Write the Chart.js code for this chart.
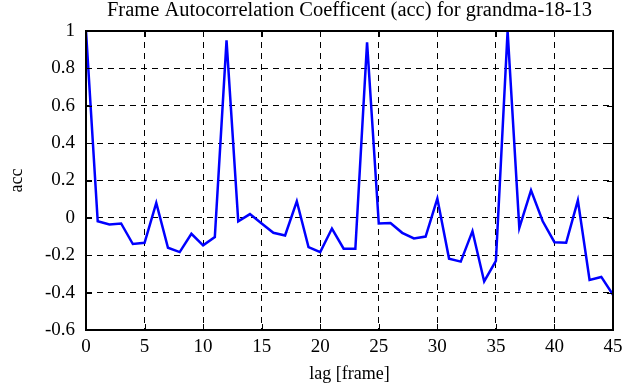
<!DOCTYPE html>
<html>
<head>
<meta charset="utf-8">
<script src="https://cdn.jsdelivr.net/npm/chart.js@4.4.1/dist/chart.umd.min.js"></script>
<style>
  html, body { margin: 0; padding: 0; background: #fff; }
  #wrap { width: 641px; height: 387px; position: relative; }
</style>
</head>
<body>
<div id="wrap"><canvas id="c"></canvas></div>
<script>
// lag in frames, 0..45
const lags = [
  0, 1, 2, 3, 4, 5, 6, 7, 8, 9,
  10, 11, 12, 13, 14, 15, 16, 17, 18, 19,
  20, 21, 22, 23, 24, 25, 26, 27, 28, 29,
  30, 31, 32, 33, 34, 35, 36, 37, 38, 39,
  40, 41, 42, 43, 44, 45,
];
// autocorrelation coefficient
const acc = [
  1.0, -0.018, -0.035, -0.03, -0.14, -0.133, 0.08, -0.16, -0.183, -0.085,
  -0.147, -0.103, 0.95, -0.018, 0.02, -0.03, -0.08, -0.094, 0.089, -0.156,
  -0.183, -0.057, -0.165, -0.165, 0.94, -0.03, -0.027, -0.08, -0.11, -0.10,
  0.103, -0.218, -0.234, -0.071, -0.34, -0.23, 1.0, -0.053, 0.147, -0.018,
  -0.13, -0.133, 0.094, -0.332, -0.316, -0.412,
];
const titleText = "Frame Autocorrelation Coefficent (acc) for grandma-18-13";
const xTitle = "lag [frame]";
const yTitle = "acc";

const FONT = "'Liberation Serif', 'DejaVu Serif', serif";

// Title centred over the plot box (Chart.js' own title centres on the canvas).
const titlePlugin = {
  id: "plotTitle",
  afterDraw(chart) {
    const { ctx, chartArea: a } = chart;
    ctx.save();
    ctx.fillStyle = "#000";
    ctx.font = `20.5px ${FONT}`;
    ctx.textAlign = "center";
    ctx.textBaseline = "middle";
    ctx.fillText(titleText, (a.left + a.right) / 2, 11);
    ctx.restore();
  },
};

// Thick frame + short solid ticks on all four sides, like the old matlab look.
const framePlugin = {
  id: "frame",
  afterDatasetsDraw(chart) {
    const { ctx, chartArea: a, scales } = chart;
    ctx.save();
    ctx.strokeStyle = "#000";
    ctx.lineWidth = 1;
    const t = 6;
    ctx.beginPath();
    scales.x.ticks.forEach((tk) => {
      const px = Math.round(scales.x.getPixelForValue(tk.value)) + 0.5;
      ctx.moveTo(px, a.top); ctx.lineTo(px, a.top + t);
      ctx.moveTo(px, a.bottom); ctx.lineTo(px, a.bottom - t);
    });
    scales.y.ticks.forEach((tk) => {
      const py = Math.round(scales.y.getPixelForValue(tk.value)) + 0.5;
      ctx.moveTo(a.left, py); ctx.lineTo(a.left + t, py);
      ctx.moveTo(a.right, py); ctx.lineTo(a.right - t, py);
    });
    ctx.stroke();
    ctx.lineWidth = 2;
    ctx.strokeRect(a.left, a.top, a.right - a.left, a.bottom - a.top);
    ctx.restore();
  },
};

new Chart(document.getElementById("c"), {
  type: "line",
  data: {
    datasets: [{
      data: lags.map((x, i) => ({ x, y: acc[i] })),
      borderColor: "#0000ff",
      borderWidth: 2.5,
      pointRadius: 0,
      tension: 0,
      fill: false,
    }],
  },
  options: {
    responsive: true,
    maintainAspectRatio: false,
    animation: false,
    layout: { padding: { left: 0, right: 28, top: 31, bottom: 0 } },
    plugins: {
      legend: { display: false },
      tooltip: { enabled: false },
      title: { display: false },
    },
    scales: {
      x: {
        type: "linear",
        min: 0,
        max: 45,
        ticks: {
          stepSize: 5,
          color: "#000",
          padding: 6,
          maxRotation: 0,
          font: { family: FONT, size: 19 },
        },
        grid: { color: "#000", lineWidth: 1, drawTicks: false },
        border: { display: false, dash: [6, 5] },
        title: {
          display: true,
          text: xTitle,
          color: "#000",
          font: { family: FONT, size: 18 },
          padding: { top: 0, bottom: 2 },
        },
        afterFit: (s) => { s.height = 57; },
      },
      y: {
        min: -0.6,
        max: 1,
        ticks: {
          stepSize: 0.2,
          color: "#000",
          padding: 11,
          font: { family: FONT, size: 19 },
          callback: (v) => String(Math.round(v * 10) / 10),
        },
        grid: { color: "#000", lineWidth: 1, drawTicks: false },
        border: { display: false, dash: [6, 5] },
        title: {
          display: true,
          text: yTitle,
          color: "#000",
          font: { family: FONT, size: 18 },
          padding: { top: 6, bottom: 0 },
        },
        afterFit: (s) => { s.width = 86; },
      },
    },
  },
  plugins: [framePlugin, titlePlugin],
});
</script>
</body>
</html>
